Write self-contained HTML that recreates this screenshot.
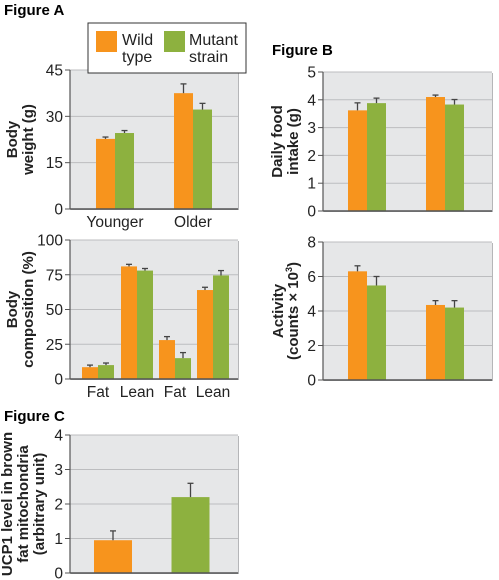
<!DOCTYPE html>
<html><head><meta charset="utf-8">
<style>
body{margin:0;background:#fff;}
svg{display:block;font-family:"Liberation Sans",sans-serif;}
</style></head>
<body>
<svg id="fig" width="499" height="580" viewBox="0 0 499 580">
<text x="4" y="15" font-size="15" font-weight="bold">Figure A</text>
<text x="272" y="55" font-size="15" font-weight="bold">Figure B</text>
<text x="4" y="421" font-size="15" font-weight="bold">Figure C</text>
</svg>
<script>
const orange="#f7941d", green="#8db13f";
// Chart A1: body weight
const a1Ticks=[0,15,30,45];
const a1Wild=[22.7,37.5];
const a1WildErr=[0.6,3.0];
const a1Mut=[24.6,32.2];
const a1MutErr=[0.8,2.0];
const a1Cats=["Younger","Older"];
// Chart A2: body composition
const a2Ticks=[0,25,50,75,100];
const a2Wild=[8.5,81,28,64];
const a2WildErr=[1.5,1.5,2.5,2.0];
const a2Mut=[10,78,15,74.5];
const a2MutErr=[1.5,1.5,4,3.5];
const a2Cats=["Fat","Lean","Fat","Lean"];
// Chart B1: food intake
const b1Ticks=[0,1,2,3,4,5];
const b1Wild=[3.62,4.1];
const b1WildErr=[0.27,0.07];
const b1Mut=[3.88,3.83];
const b1MutErr=[0.18,0.18];
// Chart B2: activity
const b2Ticks=[0,2,4,6,8];
const b2Wild=[6.3,4.35];
const b2WildErr=[0.32,0.25];
const b2Mut=[5.48,4.2];
const b2MutErr=[0.52,0.4];
// Chart C: UCP1
const cTicks=[0,1,2,3,4];
const cVals=[0.95,2.2];
const cErr=[0.27,0.4];

const svg=document.getElementById('fig');
const NS="http://www.w3.org/2000/svg";
function el(tag,attrs,parent){const e=document.createElementNS(NS,tag);for(const k in attrs)e.setAttribute(k,attrs[k]);(parent||svg).appendChild(e);return e;}

function chart(name,x0,x1,yTop,yBot,ticks,groups,barW,groupCenters,cats,ylabel,lxs){
  const g=el('g',{});
  
  
  const max=ticks[ticks.length-1];
  const ys=v=>yBot-(v/max)*(yBot-yTop);
  el('rect',{x:x0+1,y:yTop+1,width:x1-x0,height:yBot-yTop,fill:'#b5b6b8'},g);
  el('rect',{x:x0,y:yTop,width:x1-x0,height:yBot-yTop,fill:'#e6e7e8'},g);
  ticks.forEach(t=>{
    const y=ys(t);
    if(t>0){const l=el('line',{x1:x0,x2:x1,y1:y,y2:y,stroke:'#bcbdbf','stroke-width':1},g);
    }
    el('line',{x1:x0-5,x2:x0,y1:y,y2:y,stroke:'#555','stroke-width':1},g);
    const tx=el('text',{x:x0-7,y:y+5.5,'font-size':15.5,'text-anchor':'end',fill:'#222'},g);
    tx.textContent=t;
    
    
  });
  groups.forEach(gr=>{
    gr.vals.forEach((v,i)=>{
      const cx=groupCenters[i]+gr.off;
      const col=Array.isArray(gr.color)?gr.color[i]:gr.color;
      const b=el('rect',{x:cx-barW/2,y:ys(v),width:barW,height:yBot-ys(v),fill:col},g);
      
      
      const ye=ys(v+gr.err[i]);
      el('line',{x1:cx,x2:cx,y1:ys(v),y2:ye,stroke:'#444','stroke-width':1.3},g);
      el('line',{x1:cx-3,x2:cx+3,y1:ye,y2:ye,stroke:'#444','stroke-width':1.3},g);
    });
  });
  el('line',{x1:x0,x2:x0,y1:yTop,y2:yBot,stroke:'#555','stroke-width':1.2},g);
  el('line',{x1:x0,x2:x1,y1:yBot,y2:yBot,stroke:'#555','stroke-width':1.5},g);
  if(cats){cats.forEach((c,i)=>{
    const t=el('text',{x:groupCenters[i],y:yBot+18,'font-size':15.5,'text-anchor':'middle',fill:'#222'},g);
    t.textContent=c;
    
    
  });}
  const cyl=(yTop+yBot)/2;
  ylabel.forEach((line,i)=>{
    const t=el('text',{x:0,y:0,'font-size':15,'font-weight':'bold','text-anchor':'middle',fill:'#222',transform:`translate(${lxs[i]+5},${cyl}) rotate(-90)`},g);
    t.innerHTML=line;
    
    
  });
}
chart('chart-body-weight',70,238,70,209,a1Ticks,
 [{vals:a1Wild,err:a1WildErr,off:-9.5,color:orange},{vals:a1Mut,err:a1MutErr,off:9.5,color:green}],
 19,[115,193],a1Cats,["Body","weight (g)"],[12,28]);
chart('chart-body-composition',70,238,240,379,a2Ticks,
 [{vals:a2Wild,err:a2WildErr,off:-8,color:orange},{vals:a2Mut,err:a2MutErr,off:8,color:green}],
 16,[98,137,175,213],a2Cats,["Body","composition (%)"],[12,28]);
chart('chart-food-intake',323,492,72,211,b1Ticks,
 [{vals:b1Wild,err:b1WildErr,off:-9.5,color:orange},{vals:b1Mut,err:b1MutErr,off:9.5,color:green}],
 19,[367,445],null,["Daily food","intake (g)"],[277,293]);
chart('chart-activity',323,492,242,380,b2Ticks,
 [{vals:b2Wild,err:b2WildErr,off:-9.5,color:orange},{vals:b2Mut,err:b2MutErr,off:9.5,color:green}],
 19,[367,445],null,["Activity",'(counts × 10<tspan dy="-6" font-size="9">3</tspan><tspan dy="6">)</tspan>'],[278,293]);
chart('chart-ucp1',70,238,435,573,cTicks,
 [{vals:cVals,err:cErr,off:0,color:[orange,green]}],38,[113,190.5],null,["UCP1 level in brown","fat mitochondria","(arbitrary unit)"],[7,23,39]);
// legend
const lg=el('g',{});


el('rect',{x:88,y:23,width:158,height:50,fill:'#fff',stroke:'#333','stroke-width':1},lg);
el('rect',{x:96,y:31,width:21,height:21,fill:orange},lg);
el('rect',{x:164,y:31,width:21,height:21,fill:green},lg);
[["Wild",122,45],["type",122,62],["Mutant",189,45],["strain",189,62]].forEach(a=>{
  const t=el('text',{x:a[1],y:a[2],'font-size':16,fill:'#222'},lg);
  t.textContent=a[0];
  
  
});
</script>
</body></html>
